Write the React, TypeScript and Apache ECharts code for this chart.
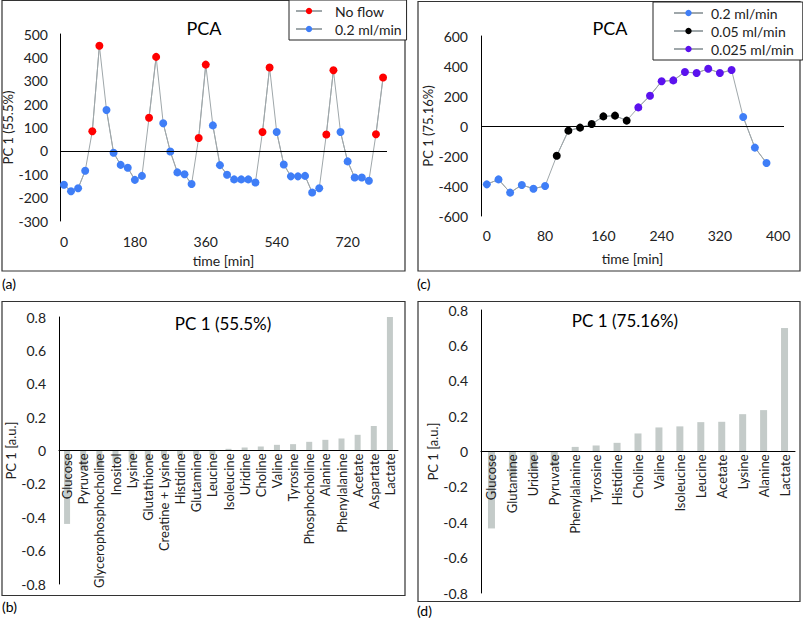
import React, { useEffect, useRef } from "react";
import * as echarts from "echarts";

// ---- Panel (a) ----
const timeA = [0, 18, 36, 54, 72, 90, 108, 126, 144, 162, 180, 198, 216, 234, 252, 270, 288, 306, 324, 342, 360, 378, 396, 414, 432, 450, 468, 486, 504, 522, 540, 558, 576, 594, 612, 630, 648, 666, 684, 702, 720, 738, 756, 774, 792, 810];
const pcaA = [-145, -173, -160, -85, 84, 450, 175, -8, -60, -72, -124, -107, 142, 402, 118, -3, -92, -100, -142, 55, 369, 109, -61, -102, -122, -122, -122, -135, 81, 357, 81, -58, -109, -109, -107, -178, -160, 70, 345, 81, -45, -114, -114, -128, 71, 314];
// N = No flow, F = 0.2 ml/min
const condA = ["F", "F", "F", "F", "N", "N", "F", "F", "F", "F", "F", "F", "N", "N", "F", "F", "F", "F", "F", "N", "N", "F", "F", "F", "F", "F", "F", "F", "N", "N", "F", "F", "F", "F", "F", "F", "F", "N", "N", "F", "F", "F", "F", "F", "N", "N"];
const ticksA = [0, 180, 360, 540, 720];

// ---- Panel (c) ----
const timeC = [0, 16, 32, 48, 64, 80, 96, 112, 128, 144, 160, 176, 192, 208, 224, 240, 256, 272, 288, 304, 320, 336, 352, 368, 384];
const pcaC = [-389, -356, -444, -393, -418, -400, -198, -31, -11, 13, 64, 69, 36, 124, 202, 298, 304, 360, 353, 382, 353, 373, 60, -144, -247];
// A = 0.2 ml/min, B = 0.05 ml/min, C = 0.025 ml/min
const condC = ["A", "A", "A", "A", "A", "A", "B", "B", "B", "B", "B", "B", "B", "C", "C", "C", "C", "C", "C", "C", "C", "C", "A", "A", "A"];
const ticksC = [0, 80, 160, 240, 320, 400];

// ---- Panel (b) ----
const catsB = ["Glucose", "Pyruvate", "Glycerophosphocholine", "Inositol", "Lysine", "Glutathione", "Creatine + Lysine", "Histidine", "Glutamine", "Leucine", "Isoleucine", "Uridine", "Choline", "Valine", "Tyrosine", "Phosphocholine", "Alanine", "Phenylalanine", "Acetate", "Aspartate", "Lactate"];
const valsB = [-0.44, -0.12, -0.1, -0.08, -0.07, -0.06, -0.044, -0.034, -0.032, -0.026, 0.01, 0.018, 0.024, 0.034, 0.038, 0.052, 0.064, 0.072, 0.094, 0.147, 0.8];

// ---- Panel (d) ----
const catsD = ["Glucose", "Glutamine", "Uridine", "Pyruvate", "Phenylalanine", "Tyrosine", "Histidine", "Choline", "Valine", "Isoleucine", "Leucine", "Acetate", "Lysine", "Alanine", "Lactate"];
const valsD = [-0.435, -0.14, -0.1, -0.08, 0.026, 0.034, 0.049, 0.102, 0.136, 0.142, 0.166, 0.168, 0.211, 0.234, 0.698];

const FONT = "Lato";
const GREY_LINE = "#9fa7aa";
const BLUE = "#3f7ef7";
const RED = "#ff0000";
const BLACK = "#000000";
const PURPLE = "#5b12ee";
const BAR = "#c4cbc9";
const TXT = "#222";

function pick(times: number[], vals: number[], cond: string[], key: string) {
  return times.map((t, i) => (cond[i] === key ? [t, vals[i]] : [t, "-"]));
}

const zeroLine = {
  silent: true,
  symbol: ["none", "none"],
  label: { show: false },
  lineStyle: { color: "#000", width: 1, type: "solid" },
  data: [{ yAxis: 0 }],
};

function ptSeries(name: string, xi: number, data: any[], color: string) {
  return {
    name,
    type: "line",
    xAxisIndex: xi,
    yAxisIndex: xi,
    data,
    symbol: "circle",
    symbolSize: 8,
    itemStyle: { color },
    lineStyle: { color: GREY_LINE, width: 1 },
    z: 3,
  };
}

const valueAxisLabel = { fontSize: 14, color: TXT, fontFamily: FONT };
const GRID_B_H = 267;
const GRID_D_H = 283;

export default function App() {
  const ref = useRef<HTMLDivElement>(null);
  useEffect(() => {
    if (!ref.current) return;
    const chart = echarts.init(ref.current, undefined, { renderer: "svg" });
    const option: any = {
      animation: false,
      backgroundColor: "#fff",
      textStyle: { fontFamily: FONT },
      grid: [
        { left: 60, top: 34, width: 327, height: 187, outerBoundsMode: "none", containLabel: false },
        { left: 481, top: 36, width: 303, height: 180, outerBoundsMode: "none", containLabel: false },
        { left: 59, top: 317, width: 339, height: GRID_B_H, outerBoundsMode: "none", containLabel: false },
        { left: 481, top: 310, width: 314, height: GRID_D_H, outerBoundsMode: "none", containLabel: false },
      ],
      xAxis: [
        {
          type: "value", gridIndex: 0, min: -10, max: 820, interval: 10,
          axisLine: { show: false, onZero: false }, axisTick: { show: false }, splitLine: { show: false },
          axisLabel: { ...valueAxisLabel, margin: 13, formatter: (v: number) => (ticksA.includes(v) ? String(v) : "") },
          name: "time [min]", nameLocation: "middle", nameGap: 32,
          nameTextStyle: { fontSize: 14, color: TXT, fontFamily: FONT },
        },
        {
          type: "value", gridIndex: 1, min: -8, max: 408, interval: 8,
          axisLine: { show: false, onZero: false }, axisTick: { show: false }, splitLine: { show: false },
          axisLabel: { ...valueAxisLabel, margin: 12, formatter: (v: number) => (ticksC.includes(v) ? String(v) : "") },
          name: "time [min]", nameLocation: "middle", nameGap: 35,
          nameTextStyle: { fontSize: 14, color: TXT, fontFamily: FONT },
        },
        {
          type: "category", gridIndex: 2, data: catsB, z: 5, position: "bottom", offset: -GRID_B_H / 2,
          axisLine: { show: true, onZero: false, lineStyle: { color: "#000", width: 1 } },
          axisTick: { show: false },
          axisLabel: { rotate: 90, interval: 0, fontSize: 13, color: TXT, fontFamily: FONT, margin: 3 },
        },
        {
          type: "category", gridIndex: 3, data: catsD, z: 5, position: "bottom", offset: -GRID_D_H / 2,
          axisLine: { show: true, onZero: false, lineStyle: { color: "#000", width: 1 } },
          axisTick: { show: false },
          axisLabel: { rotate: 90, interval: 0, fontSize: 13, color: TXT, fontFamily: FONT, margin: 3 },
        },
      ],
      yAxis: [
        {
          type: "value", gridIndex: 0, min: -300, max: 500, interval: 100,
          axisLine: { show: true, onZero: false, lineStyle: { color: "#000", width: 1 } },
          axisTick: { show: false }, splitLine: { show: false },
          axisLabel: { ...valueAxisLabel, margin: 12 },
          name: "PC 1 (55.5%)", nameLocation: "middle", nameGap: 33,
          nameTextStyle: { fontSize: 13, color: TXT, fontFamily: FONT },
        },
        {
          type: "value", gridIndex: 1, min: -600, max: 600, interval: 200,
          axisLine: { show: true, onZero: false, lineStyle: { color: "#000", width: 1 } },
          axisTick: { show: false }, splitLine: { show: false },
          axisLabel: { ...valueAxisLabel, margin: 13 },
          name: "PC 1 (75.16%)", nameLocation: "middle", nameGap: 42,
          nameTextStyle: { fontSize: 13, color: TXT, fontFamily: FONT },
        },
        {
          type: "value", gridIndex: 2, min: -0.8, max: 0.8, interval: 0.2,
          axisLine: { show: true, onZero: false, lineStyle: { color: "#000", width: 1 } },
          axisTick: { show: false }, splitLine: { show: false },
          axisLabel: { ...valueAxisLabel, margin: 13 },
          name: "PC 1 [a.u.]", nameLocation: "middle", nameGap: 34,
          nameTextStyle: { fontSize: 13, color: TXT, fontFamily: FONT },
        },
        {
          type: "value", gridIndex: 3, min: -0.8, max: 0.8, interval: 0.2,
          axisLine: { show: true, onZero: false, lineStyle: { color: "#000", width: 1 } },
          axisTick: { show: false }, splitLine: { show: false },
          axisLabel: { ...valueAxisLabel, margin: 13 },
          name: "PC 1 [a.u.]", nameLocation: "middle", nameGap: 41,
          nameTextStyle: { fontSize: 13, color: TXT, fontFamily: FONT },
        },
      ],
      legend: [
        {
          orient: "vertical", left: 289, top: 0,
          data: ["No flow", "0.2 ml/min"],
          backgroundColor: "#fff", borderColor: "#222", borderWidth: 1,
          padding: [3, 5, 3, 6], itemGap: 2, itemWidth: 26, itemHeight: 8,
          textStyle: { fontSize: 14, color: TXT, fontFamily: FONT, lineHeight: 16, padding: [0, 0, 0, 8] },
        },
        {
          orient: "vertical", left: 653, top: 2,
          data: ["0.2 ml/min", "0.05 ml/min", "0.025 ml/min"],
          backgroundColor: "#fff", borderColor: "#222", borderWidth: 1,
          padding: [3, 9, 3, 20], itemGap: 2, itemWidth: 29, itemHeight: 8,
          textStyle: { fontSize: 14, color: TXT, fontFamily: FONT, lineHeight: 16, padding: [0, 0, 0, 3] },
        },
      ],
      graphic: [
        { type: "rect", shape: { x: 2, y: 0.5, width: 403, height: 270.5 }, style: { fill: "none", stroke: "#333", lineWidth: 1.2 }, z: -1 },
        { type: "rect", shape: { x: 418, y: 1.5, width: 382, height: 269.5 }, style: { fill: "none", stroke: "#333", lineWidth: 1.2 }, z: -1 },
        { type: "rect", shape: { x: 2, y: 301.5, width: 403, height: 294 }, style: { fill: "none", stroke: "#333", lineWidth: 1.2 }, z: -1 },
        { type: "rect", shape: { x: 418, y: 301.5, width: 382, height: 300 }, style: { fill: "none", stroke: "#333", lineWidth: 1.2 }, z: -1 },
        { type: "text", x: 204, y: 28, style: { text: "PCA", fontSize: 18, fontFamily: FONT, fill: "#000", textAlign: "center", textVerticalAlign: "middle" } },
        { type: "text", x: 610, y: 28, style: { text: "PCA", fontSize: 18, fontFamily: FONT, fill: "#000", textAlign: "center", textVerticalAlign: "middle" } },
        { type: "text", x: 223, y: 323, style: { text: "PC 1 (55.5%)", fontSize: 17, fontFamily: FONT, fill: "#000", textAlign: "center", textVerticalAlign: "middle" } },
        { type: "text", x: 625, y: 320, style: { text: "PC 1 (75.16%)", fontSize: 17, fontFamily: FONT, fill: "#000", textAlign: "center", textVerticalAlign: "middle" } },
        { type: "text", x: 2, y: 283, style: { text: "(a)", fontSize: 14, fontFamily: FONT, fill: "#000", textVerticalAlign: "middle" } },
        { type: "text", x: 417, y: 283, style: { text: "(c)", fontSize: 14, fontFamily: FONT, fill: "#000", textVerticalAlign: "middle" } },
        { type: "text", x: 2, y: 606, style: { text: "(b)", fontSize: 14, fontFamily: FONT, fill: "#000", textVerticalAlign: "middle" } },
        { type: "text", x: 417, y: 610, style: { text: "(d)", fontSize: 14, fontFamily: FONT, fill: "#000", textVerticalAlign: "middle" } },
      ],
      series: [
        {
          type: "line", xAxisIndex: 0, yAxisIndex: 0,
          data: timeA.map((t, i) => [t, pcaA[i]]),
          symbol: "none", lineStyle: { color: GREY_LINE, width: 1 }, z: 2,
          markLine: zeroLine,
        },
        ptSeries("No flow", 0, pick(timeA, pcaA, condA, "N"), RED),
        ptSeries("0.2 ml/min", 0, pick(timeA, pcaA, condA, "F"), BLUE),
        {
          type: "line", xAxisIndex: 1, yAxisIndex: 1,
          data: timeC.map((t, i) => [t, pcaC[i]]),
          symbol: "none", lineStyle: { color: GREY_LINE, width: 1 }, z: 2,
          markLine: zeroLine,
        },
        ptSeries("0.2 ml/min", 1, pick(timeC, pcaC, condC, "A"), BLUE),
        ptSeries("0.05 ml/min", 1, pick(timeC, pcaC, condC, "B"), BLACK),
        ptSeries("0.025 ml/min", 1, pick(timeC, pcaC, condC, "C"), PURPLE),
        { type: "bar", xAxisIndex: 2, yAxisIndex: 2, data: valsB, barWidth: 6, itemStyle: { color: BAR }, z: 2 },
        { type: "bar", xAxisIndex: 3, yAxisIndex: 3, data: valsD, barWidth: 7, itemStyle: { color: BAR }, z: 2 },
      ],
    };
    chart.setOption(option);
    return () => chart.dispose();
  }, []);
  return (
    <div
      ref={ref}
      style={{ position: "absolute", left: 0, top: 0, width: 803, height: 621, background: "#fff" }}
    />
  );
}
